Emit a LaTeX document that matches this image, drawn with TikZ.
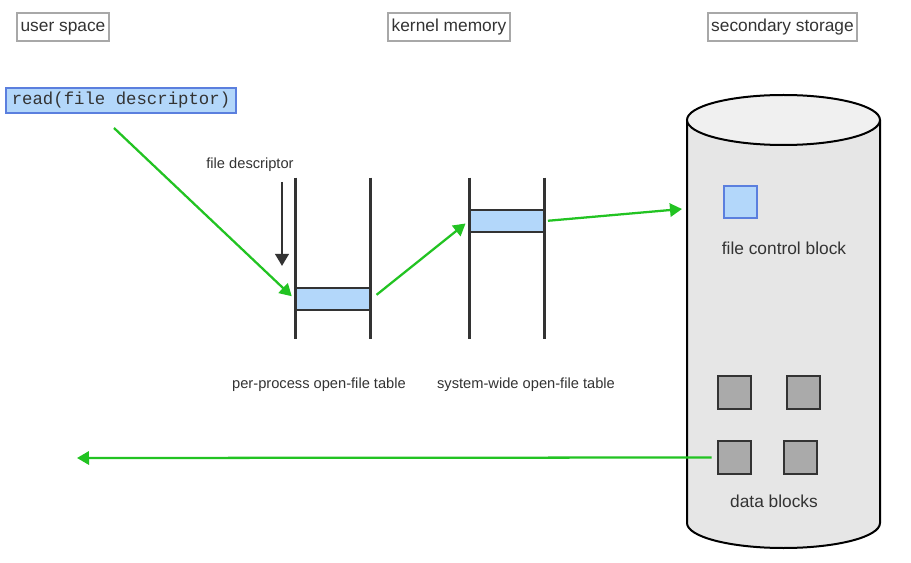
\documentclass[tikz,border=0pt]{standalone}
\usepackage{fontspec}
\setmainfont{Liberation Sans}
\setmonofont{Liberation Mono}
\usetikzlibrary{arrows.meta}
\definecolor{flowgreen}{HTML}{22C322}
\definecolor{cellblue}{HTML}{B3D7FA}
\definecolor{edgeblue}{HTML}{5B7FDE}
\definecolor{labelgray}{HTML}{A8A8A8}
\definecolor{inkdark}{HTML}{333333}
\definecolor{diskside}{HTML}{E6E6E6}
\definecolor{disktop}{HTML}{F0F0F0}
\definecolor{blockgray}{HTML}{AAAAAA}
\begin{document}
\begin{tikzpicture}[x=0.75pt,y=-0.75pt]
    		\newcommand{\pxu}{0.75pt} % one pixel of the reference
    		
    		% set the styles of the boxes and arrows
    		\tikzset{
    			region/.style={
    				draw=labelgray,
    				line width=1.5pt,
    				text=inkdark,
    				font=\fontsize{13}{15}\selectfont,
    				inner xsep=2.5pt,
    				text height=9.4pt,
    				text depth=2.8pt,
    				minimum height=28*\pxu
    				},
    			entry/.style={
    				draw=inkdark,
    				fill=cellblue,
    				line width=2pt,
    				minimum width=74*\pxu,
    				minimum height=22*\pxu
    				},
    			datablock/.style={
    				draw=inkdark,
    				fill=blockgray,
    				line width=1.6pt,
    				minimum width=33*\pxu,
    				minimum height=33*\pxu
    				},
    			caption/.style={
    				text=inkdark,
    				font=\fontsize{11}{13}\selectfont
    				},
    			flow/.style={
    				draw=flowgreen,
    				line width=1.7pt,
    				-{Triangle[length=9pt,width=10pt]}
    				}
    		}
    		
    		\useasboundingbox (0,0) rectangle (911,563);
    		
    		% headings
    		\node[region] (user) at (63,27) {user space};
    		\node[region] (kernel) at (449,27) {kernel memory};
    		\node[region] (storage) at (782.5,27) {secondary storage};
    		
    		% system call
    		\node[draw=edgeblue, fill=cellblue, line width=1.5pt, inner sep=0pt,
    			minimum width=230*\pxu, minimum height=25*\pxu,
    			font=\ttfamily\fontsize{13}{15}\selectfont, text=inkdark] (read) at (121,100.5) {read(file descriptor)};
    		
    		% disk
    		\fill[diskside] (687,120) -- (687,523) arc[start angle=180, end angle=360, x radius=96.5*\pxu, y radius=25*\pxu] -- (880,120) -- cycle;
    		\draw[line width=1.5pt] (687,120) -- (687,523) arc[start angle=180, end angle=360, x radius=96.5*\pxu, y radius=25*\pxu] -- (880,120);
    		\draw[line width=1.5pt, fill=disktop] (783.5,120) ellipse [x radius=96.5*\pxu, y radius=25*\pxu];
    		
    		% open-file tables
    		\node[minimum width=74*\pxu, minimum height=161*\pxu] (perproc) at (333,258.5) {};
    		\node[minimum width=74*\pxu, minimum height=161*\pxu] (syswide) at (507,258.5) {};
    		\draw[inkdark, line width=2pt] (perproc.north west) -- (perproc.south west);
    		\draw[inkdark, line width=2pt] (perproc.north east) -- (perproc.south east);
    		\draw[inkdark, line width=2pt] (syswide.north west) -- (syswide.south west);
    		\draw[inkdark, line width=2pt] (syswide.north east) -- (syswide.south east);
    		\node[entry] (fdentry) at (333,299) {};
    		\node[entry] (sysentry) at (507,221) {};
    		\node[caption] (perlabel) at (319,385) {per-process open-file table};
    		\node[caption] (syslabel) at (526,385) {system-wide open-file table};
    		
    		% index into the per-process table
    		\node[caption] (fdlabel) at (250,165) {file descriptor};
    		\coordinate (fdtop) at (282,182);
    		\coordinate (fdtip) at (282,266);
    		\draw[inkdark, line width=2pt, -{Triangle[length=9pt,width=10pt]}] (fdtop) -- (fdtip);
    		
    		% blocks on the disk
    		\node[draw=edgeblue, fill=cellblue, line width=1.5pt, minimum width=33*\pxu, minimum height=32*\pxu] (fcb) at (740.5,202) {};
    		\node[text=inkdark, font=\fontsize{13}{15}\selectfont] (fcblabel) at (784,248) {file control block};
    		\node[datablock] (blockA) at (734.5,392.5) {};
    		\node[datablock] (blockB) at (803.5,392.5) {};
    		\node[datablock] (blockC) at (734.5,457.5) {};
    		\node[datablock] (blockD) at (800.5,457.5) {};
    		\node[text=inkdark, font=\fontsize{13}{15}\selectfont] (blocklabel) at (774,501) {data blocks};
    		
    		% green flow
    		\coordinate (readout) at (114,128);
    		\coordinate (diskin) at (682,209);
    		\coordinate (userin) at (77,458);
    		\draw[flow, shorten >=3pt] (readout) -- (fdentry.west);
    		\draw[flow, shorten <=5pt, shorten >=3pt] (fdentry.east) -- (sysentry.west);
    		\draw[flow, shorten <=2pt] (sysentry.east) -- (diskin);
    		\draw[flow, shorten <=4pt] (blockC.west) -- (userin);
\end{tikzpicture}
\end{document}
